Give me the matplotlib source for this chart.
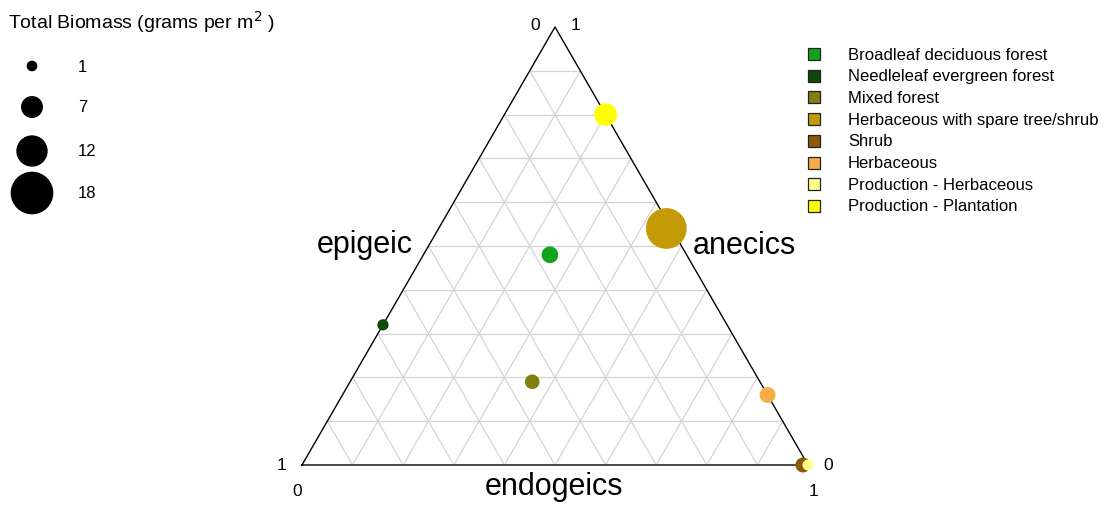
import numpy as np
import matplotlib.pyplot as plt
from matplotlib.patches import Rectangle

plt.rcParams['font.family'] = ['Liberation Sans', 'DejaVu Sans']

# land use classes, colours and worm group proportions
classes = ['Broadleaf deciduous forest', 'Needleleaf evergreen forest', 'Mixed forest',
           'Herbaceous with spare tree/shrub', 'Shrub', 'Herbaceous',
           'Production - Herbaceous', 'Production - Plantation']
colors = ['#10a41c', '#0b4a0c', '#7f7f12', '#c49a06', '#8a5a08', '#f5ad45', '#ffff8c', '#ffff00']
epigeic = [0.27, 0.68, 0.45, 0.01, 0.01, 0.00, 0.00, 0.00]
endogeic = [0.25, 0.00, 0.36, 0.45, 0.99, 0.84, 1.00, 0.20]
anecic = [0.48, 0.32, 0.19, 0.54, 0.00, 0.16, 0.00, 0.80]
biomass = [4.2, 1.3, 3.1, 17.0, 3.3, 3.8, 1.2, 7.4]

size_ticks = [1, 7, 12, 18]


def msize(v):
    # marker diameter grows linearly with biomass (pixels -> points^2)
    d = 8.8 + 1.88 * np.asarray(v, dtype=float)
    return (d * 0.72) ** 2


W, H = 1109, 510
fig = plt.figure(figsize=(W / 100, H / 100), dpi=100)

# triangle axes: bottom-left (302,466), bottom-right (808,466), top at 438 px high
ax = fig.add_axes([302 / W, (H - 466) / H, 506 / W, 438 / H])
h = np.sqrt(3) / 2
ax.set_xlim(0, 1)
ax.set_ylim(0, h)
ax.axis('off')

# grid lines every 0.1
for t in np.arange(0.1, 1.0, 0.1):
    ax.plot([t / 2, 1 - t / 2], [t * h, t * h], color='#d4d4d4', lw=0.9, zorder=1)
    ax.plot([t, t / 2 + 0.5], [0, (1 - t) * h], color='#d4d4d4', lw=0.9, zorder=1)
    ax.plot([t, t / 2], [0, t * h], color='#d4d4d4', lw=0.9, zorder=1)
ax.plot([0, 1, 0.5, 0], [0, 0, h, 0], color='black', lw=1.0, zorder=2, clip_on=False)

x = np.array(endogeic) + np.array(anecic) / 2
y = np.array(anecic) * h
ax.scatter(x, y, s=msize(biomass), c=colors, edgecolors='none', zorder=3, clip_on=False)

# corner numbers
ax.text(-0.03, 0.0, '1', ha='right', va='center', fontsize=12.5)
ax.text(-0.01, -0.035, '0', ha='center', va='top', fontsize=12.5)
ax.text(1.03, 0.0, '0', ha='left', va='center', fontsize=12.5)
ax.text(1.01, -0.035, '1', ha='center', va='top', fontsize=12.5)
ax.text(0.47, h + 0.005, '0', ha='right', va='center', fontsize=12.5)
ax.text(0.53, h + 0.005, '1', ha='left', va='center', fontsize=12.5)

# overlay in pixel space for axis titles and legends
lg = fig.add_axes([0, 0, 1, 1])
lg.set_xlim(0, W)
lg.set_ylim(H, 0)
lg.axis('off')

lg.text(413, 253, 'epigeic', ha='right', va='baseline', fontsize=22)
lg.text(693, 254, 'anecics', ha='left', va='baseline', fontsize=22)
lg.text(554, 495, 'endogeics', ha='center', va='baseline', fontsize=22)

lg.text(8, 22, 'Total Biomass (grams per m$^2$ )', ha='left', va='center', fontsize=14)
size_rows = [67, 108, 152, 194]
lg.scatter([32] * len(size_ticks), size_rows, s=msize(size_ticks), c='black', edgecolors='none')
for v, yy in zip(size_ticks, size_rows):
    lg.text(78, yy, str(v), ha='left', va='center', fontsize=12)

for i, (lab, col) in enumerate(zip(classes, colors)):
    yy = 55 + i * 21.7
    lg.add_patch(Rectangle((808, yy - 6), 12, 12, facecolor=col, edgecolor='#222222', lw=0.9))
    lg.text(848, yy, lab, ha='left', va='center', fontsize=12)

fig.savefig('out.png', dpi=100)
